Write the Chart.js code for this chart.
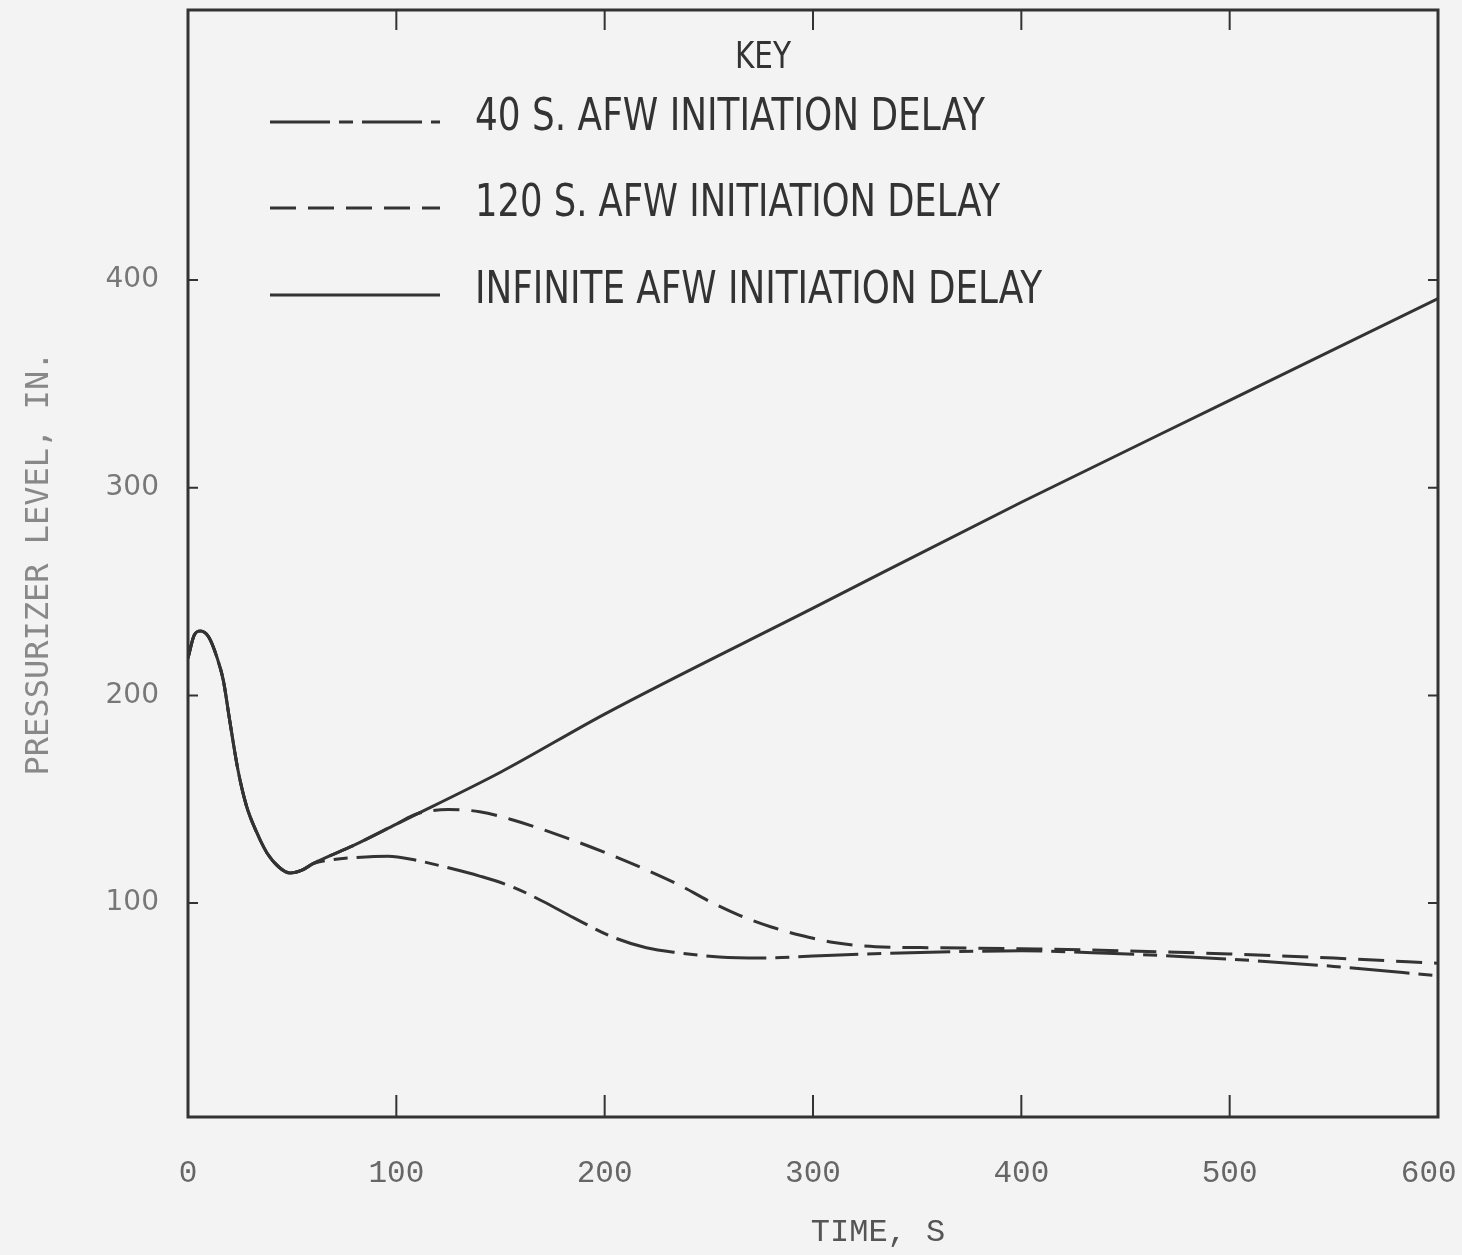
<!DOCTYPE html>
<html>
<head>
<meta charset="utf-8">
<script src="https://cdn.jsdelivr.net/npm/chart.js@4.4.1/dist/chart.umd.min.js"></script>
<style>
  html, body { margin: 0; padding: 0; background: #f3f3f3; }
  canvas { display: block; }
</style>
</head>
<body>
<canvas id="myChart" width="1462" height="1255"></canvas>
<script>
// Values
var commonTime = [0, 3, 6, 10, 14, 17, 20, 24, 28, 33, 38, 44, 49, 55, 60];
var commonLevel = [218, 229, 231, 228, 218, 207, 188, 164, 147, 134, 124, 117, 114.5, 116, 119];

var infTime = [80, 100, 150, 200, 300, 400, 500, 600];
var infLevel = [128, 138, 163, 191, 242, 293, 342, 391];

var delay120Time = [80, 100, 110, 125, 140, 156, 180, 201, 220, 236, 250, 265, 280, 294, 310, 330, 360, 400, 450, 500, 550, 600];
var delay120Level = [128, 138, 143, 145, 144, 140, 132, 124, 116, 108.6, 101, 94, 88.5, 84.5, 81, 79, 78.5, 78, 77, 75.5, 73.5, 71];

var delay40Time = [70, 81, 96, 110, 125, 140, 156, 170, 185, 204, 220, 236, 255, 275, 300, 342, 400, 438, 500, 550, 600];
var delay40Level = [121, 122, 122.6, 120.5, 117, 113, 107.7, 101, 93, 83.6, 78.5, 76, 74, 73.5, 74.5, 76, 77, 76, 73, 69.5, 65];

var xTicks = [0, 100, 200, 300, 400, 500, 600];
var yTicks = [100, 200, 300, 400];

var seriesLabels = ["40 S. AFW INITIATION DELAY", "120 S. AFW INITIATION DELAY", "INFINITE AFW INITIATION DELAY"];

function toPoints(t1, v1, t2, v2) {
    var pts = [];
    for (var i = 0; i < t1.length; i++) pts.push({x: t1[i], y: v1[i]});
    for (var j = 0; j < t2.length; j++) pts.push({x: t2[j], y: v2[j]});
    return pts;
}

var ink = '#333333';
var narrow = '"Liberation Sans Narrow", "DejaVu Sans Condensed", sans-serif';
var mono = '"Liberation Mono", "DejaVu Sans Mono", monospace';

// frame with inward tick marks, plus the x title (sits right of centre in the scan)
var framePlugin = {
    id: 'frame',
    afterDraw: function(chart) {
        var c = chart.ctx, a = chart.chartArea;
        var xs = chart.scales.x, ys = chart.scales.y;
        c.save();
        c.strokeStyle = ink;
        c.lineWidth = 3;
        c.strokeRect(a.left, a.top, a.right - a.left, a.bottom - a.top);
        c.lineWidth = 2;
        xTicks.forEach(function(v) {
            if (v === 0 || v === 600) return;
            var px = xs.getPixelForValue(v);
            c.beginPath();
            c.moveTo(px, a.bottom); c.lineTo(px, a.bottom - 22);
            c.moveTo(px, a.top); c.lineTo(px, a.top + 20);
            c.stroke();
        });
        yTicks.forEach(function(v) {
            var py = ys.getPixelForValue(v);
            c.beginPath();
            c.moveTo(a.left, py); c.lineTo(a.left + 10, py);
            c.moveTo(a.right, py); c.lineTo(a.right - 10, py);
            c.stroke();
        });
        c.fillStyle = '#555';
        c.font = '32px ' + mono;
        c.textAlign = 'center';
        c.textBaseline = 'middle';
        c.fillText('TIME, S', 878, 1233);
        c.restore();
    }
};

// the "KEY" box inside the plot
var keyPlugin = {
    id: 'key',
    afterDraw: function(chart) {
        var c = chart.ctx;
        c.save();
        c.fillStyle = ink;
        c.font = '38px ' + narrow;
        c.textAlign = 'center';
        c.textBaseline = 'middle';
        c.fillText('KEY', 763, 58, 56);
        c.font = '45px ' + narrow;
        c.textAlign = 'left';
        var rows = [118, 204, 291];
        var widths = [510, 525, 567];
        chart.data.datasets.forEach(function(ds, i) {
            var y = rows[i];
            c.strokeStyle = ds.borderColor;
            c.lineWidth = ds.borderWidth;
            c.setLineDash(ds.borderDash || []);
            c.beginPath();
            c.moveTo(270, y + 4); c.lineTo(440, y + 4);
            c.stroke();
            c.setLineDash([]);
            c.fillText(ds.label, 475, y, widths[i]);
        });
        c.restore();
    }
};

window.addEventListener('load', function() {
    var ctx = document.getElementById('myChart').getContext('2d');
    var myChart = new Chart(ctx, {
        type: 'line',
        data: {
            datasets: [{
                label: seriesLabels[0],
                data: toPoints(commonTime, commonLevel, delay40Time, delay40Level),
                borderColor: ink,
                borderWidth: 3,
                borderDash: [60, 9, 14, 9],
                pointRadius: 0,
                fill: false,
                cubicInterpolationMode: 'monotone'
            }, {
                label: seriesLabels[1],
                data: toPoints(commonTime, commonLevel, delay120Time, delay120Level),
                borderColor: ink,
                borderWidth: 3,
                borderDash: [26, 12],
                pointRadius: 0,
                fill: false,
                cubicInterpolationMode: 'monotone'
            }, {
                label: seriesLabels[2],
                data: toPoints(commonTime, commonLevel, infTime, infLevel),
                borderColor: ink,
                borderWidth: 3,
                pointRadius: 0,
                fill: false,
                cubicInterpolationMode: 'monotone'
            }]
        },
        options: {
            responsive: false,
            animation: false,
            devicePixelRatio: 1,
            layout: { padding: { top: 10, right: 24, left: 0, bottom: 0 } },
            plugins: {
                legend: { display: false },
                tooltip: { enabled: false }
            },
            scales: {
                x: {
                    type: 'linear',
                    min: 0,
                    max: 600,
                    afterFit: function(s) { s.height = 138; s.paddingLeft = 0; s.paddingRight = 0; },
                    afterBuildTicks: function(s) { s.ticks = xTicks.map(function(v) { return {value: v}; }); },
                    grid: { display: false },
                    border: { display: false },
                    ticks: {
                        padding: 30,
                        color: '#666',
                        font: { family: mono, size: 31 },
                        // last label sits a little inside the frame in the scan
                        callback: function(v) { return v === 600 ? '600 ' : String(v); }
                    }
                },
                y: {
                    min: -3,
                    max: 530,
                    afterFit: function(s) { s.width = 188; s.paddingTop = 0; s.paddingBottom = 0; },
                    afterBuildTicks: function(s) { s.ticks = yTicks.map(function(v) { return {value: v}; }); },
                    grid: { display: false },
                    border: { display: false },
                    ticks: {
                        padding: 21,
                        color: '#777',
                        font: { family: '"DejaVu Sans", sans-serif', size: 28 }
                    },
                    title: {
                        display: true,
                        text: 'PRESSURIZER LEVEL, IN.',
                        color: '#888',
                        padding: { top: 20, bottom: 0 },
                        font: { family: '"DejaVu Sans Mono", monospace', size: 32 }
                    }
                }
            }
        },
        plugins: [framePlugin, keyPlugin]
    });
});
</script>
</body>
</html>
